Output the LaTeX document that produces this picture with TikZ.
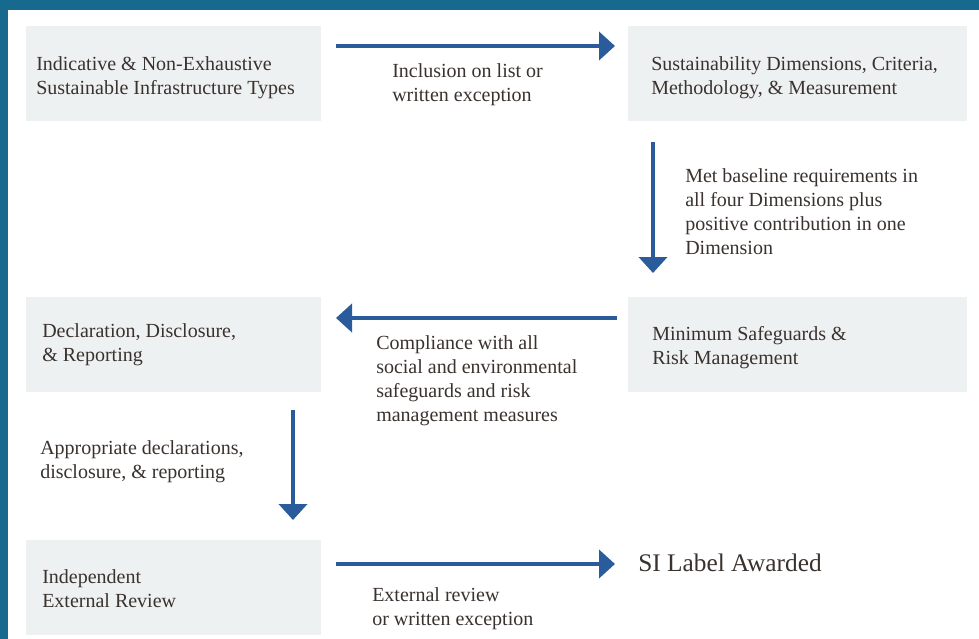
\documentclass[tikz,border=0pt]{standalone}
\usepackage{fontspec}
\setmainfont{Liberation Serif}
\usetikzlibrary{arrows.meta}
\definecolor{bandblue}{HTML}{176A8E}
\definecolor{boxgray}{HTML}{EEF1F2}
\definecolor{flowblue}{HTML}{2A5C9C}
\definecolor{ink}{HTML}{3A322E}
\begin{document}
\begin{tikzpicture}[x=0.75pt,y=-0.75pt,
  box/.style={fill=boxgray, draw=none, anchor=north west, inner sep=0pt},
  boxtext/.style={text=ink, anchor=west, align=left, inner sep=0pt, font=\fontsize{15pt}{18pt}\selectfont},
  note/.style={boxtext},
  flow/.style={draw=flowblue, line width=3pt, -{Triangle[width=21pt,length=12pt]}}]
\useasboundingbox (0,0) rectangle (979,639);
\fill[white] (0,0) rectangle (979,639);
\fill[bandblue] (0,0) rectangle (979,10);
\fill[bandblue] (0,0) rectangle (8,639);
\node[box, minimum width=221.25pt, minimum height=71.25pt] (types) at (26,26){};
\node[box, minimum width=254.25pt, minimum height=71.25pt] (dims) at (628,26){};
\node[box, minimum width=221.25pt, minimum height=71.25pt] (decl) at (26,297){};
\node[box, minimum width=254.25pt, minimum height=71.25pt] (safe) at (628,297){};
\node[box, minimum width=221.25pt, minimum height=71.25pt] (review) at (26,540){};
\node[boxtext] (typestxt) at (36,78){Indicative \& Non-Exhaustive\\Sustainable Infrastructure Types};
\node[boxtext] (dimstxt) at (651,78){Sustainability Dimensions, Criteria,\\Methodology, \& Measurement};
\node[boxtext] (decltxt) at (42,345){Declaration, Disclosure,\\\& Reporting};
\node[boxtext] (safetxt) at (652,348){Minimum Safeguards \&\\Risk Management};
\node[boxtext] (reviewtxt) at (42,589){Independent\\External Review};
\node[text=ink, anchor=west, inner sep=0pt, font=\fontsize{19pt}{22pt}\selectfont] (award) at (638,563){SI Label Awarded};
\coordinate (f1a) at (336,46);
\coordinate (f1b) at (615,46);
\coordinate (f2a) at (653,142);
\coordinate (f2b) at (653,273);
\coordinate (f3a) at (617,318);
\coordinate (f3b) at (336,318);
\coordinate (f4a) at (293,410);
\coordinate (f4b) at (293,520);
\coordinate (f5a) at (336,564);
\coordinate (f5b) at (615,564);
\draw[flow] (f1a) -- (f1b);
\draw[flow] (f2a) -- (f2b);
\draw[flow] (f3a) -- (f3b);
\draw[flow] (f4a) -- (f4b);
\draw[flow] (f5a) -- (f5b);
\node[note] (inclusion) at (392,85){Inclusion on list or\\written exception};
\node[note] (baseline) at (685,212){Met baseline requirements in\\all four Dimensions plus\\positive contribution in one\\Dimension};
\node[note] (compliance) at (376,381){Compliance with all\\social and environmental\\safeguards and risk\\management measures};
\node[note] (declare) at (40,462){Appropriate declarations,\\disclosure, \& reporting};
\node[note] (external) at (372,609){External review\\or written exception};
\end{tikzpicture}
\end{document}
